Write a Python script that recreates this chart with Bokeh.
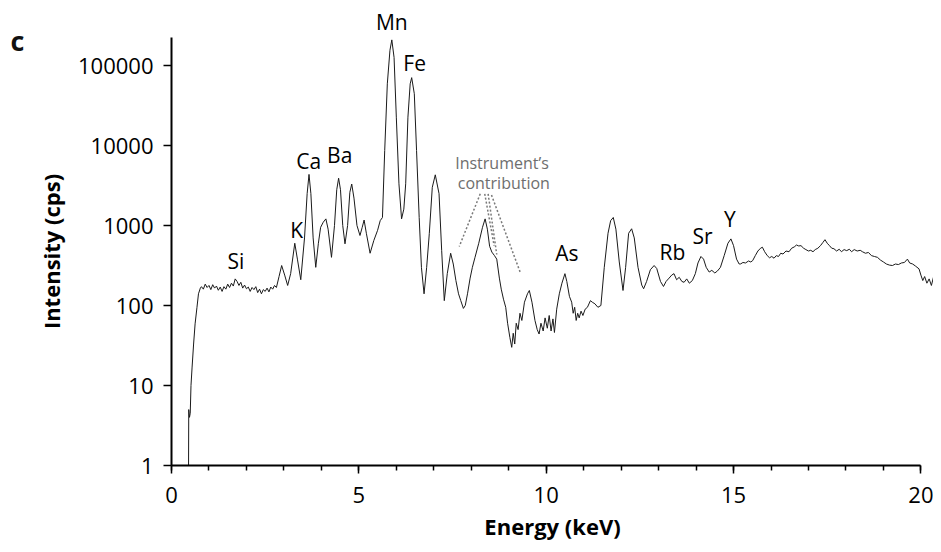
from bokeh.plotting import figure
from bokeh.models import (FixedTicker, NumeralTickFormatter, Range1d, LabelSet,
                          ColumnDataSource, LinearAxis)
from bokeh.core.properties import value
from bokeh.embed import file_html
from bokeh.resources import INLINE

# ---- spectrum (energy in keV, intensity in cps) ----
energy = [
    0.455, 0.46, 0.48, 0.50, 0.52, 0.55, 0.59, 0.63, 0.68, 0.72, 0.77,
    0.80, 0.85, 0.90, 0.95, 1.00, 1.05, 1.10, 1.15, 1.20, 1.25, 1.30, 1.35,
    1.40, 1.45, 1.50, 1.55, 1.60, 1.65, 1.70, 1.75, 1.80, 1.85, 1.90, 1.95,
    2.00, 2.05, 2.10, 2.15, 2.20, 2.25, 2.30, 2.35, 2.40, 2.45, 2.50, 2.55,
    2.60, 2.65, 2.70, 2.75, 2.80,
    2.87, 2.94, 3.02, 3.10, 3.18, 3.29, 3.36, 3.45, 3.55, 3.62, 3.67, 3.72,
    3.78, 3.85, 3.92, 3.98, 4.05, 4.12, 4.18, 4.27, 4.35, 4.41, 4.46, 4.51,
    4.57, 4.63, 4.70, 4.76, 4.81, 4.87, 4.95, 5.03, 5.09, 5.14, 5.20, 5.30,
    5.40, 5.50, 5.57, 5.63, 5.69, 5.76, 5.83, 5.88, 5.94, 6.00, 6.07, 6.14,
    6.20, 6.25, 6.31, 6.37, 6.41, 6.48, 6.54, 6.61, 6.67, 6.74, 6.81, 6.88,
    6.96, 7.04, 7.14, 7.21, 7.28, 7.36, 7.45, 7.52, 7.59, 7.66, 7.72, 7.79,
    7.84, 7.90, 7.97, 8.03, 8.10, 8.20, 8.30, 8.37, 8.43, 8.49, 8.55, 8.62,
    8.68, 8.75, 8.80, 8.86, 8.92, 8.97, 9.03, 9.08, 9.12, 9.16, 9.20, 9.25,
    9.30, 9.35, 9.42, 9.50, 9.55, 9.62, 9.70, 9.76, 9.81, 9.86, 9.92, 9.97,
    10.03, 10.08, 10.13, 10.18, 10.22, 10.28, 10.35, 10.42, 10.50, 10.55,
    10.62, 10.68, 10.72, 10.76, 10.80, 10.84, 10.88, 10.93, 10.98, 11.04,
    11.10, 11.18, 11.23, 11.30, 11.38, 11.46, 11.55, 11.65, 11.72, 11.79,
    11.86, 11.95, 12.05, 12.12, 12.20, 12.28, 12.35, 12.45, 12.55, 12.60,
    12.68, 12.78, 12.88, 12.95, 13.05, 13.13, 13.20, 13.28, 13.35, 13.41,
    13.48, 13.55, 13.62, 13.68, 13.75, 13.82, 13.90, 13.98, 14.05, 14.13,
    14.20, 14.27, 14.35, 14.42, 14.50, 14.57, 14.65, 14.75, 14.85, 14.93,
    15.00, 15.08, 15.15, 15.19, 15.25, 15.32, 15.40, 15.46, 15.51, 15.58,
    15.65, 15.72, 15.77, 15.83, 15.90, 15.96, 16.02, 16.08, 16.14, 16.20,
    16.26, 16.32, 16.40, 16.48, 16.55, 16.62, 16.68, 16.74, 16.80, 16.87,
    16.93, 17.00, 17.06, 17.12, 17.18, 17.25, 17.32, 17.38, 17.44, 17.50,
    17.56, 17.62, 17.68, 17.75, 17.82, 17.88, 17.95, 18.02, 18.09, 18.15,
    18.22, 18.30, 18.38, 18.44, 18.52, 18.60, 18.68, 18.76, 18.84, 18.92,
    19.00, 19.08, 19.16, 19.24, 19.32, 19.40, 19.48, 19.56, 19.64, 19.70,
    19.78, 19.86, 19.95, 20.00, 20.05, 20.10, 20.16, 20.22, 20.28, 20.34,
    20.40, 20.44, 20.50, 20.56,
]
intensity = [
    1, 5, 4, 4.5, 10, 17, 33, 59, 95, 140, 165,
    172, 160, 185, 168, 178, 158, 182, 165, 175, 155, 170, 150,
    172, 160, 185, 168, 190, 175, 215, 200, 178, 195, 165, 180,
    162, 170, 150, 168, 158, 172, 145, 160, 140, 158, 150, 165,
    148, 170, 160, 178, 168,
    230, 316, 240, 178, 250, 600, 380, 210, 700, 2500, 4350, 2500,
    700, 300, 600, 950, 1100, 1210, 900, 400, 1000, 2800, 3900, 2800,
    1000, 590, 1000, 2600, 3300, 2200, 1000, 750, 950, 1170, 800, 450,
    650, 870, 1150, 1260, 8660, 59000, 155000, 209000, 126000, 22600, 3320, 1210,
    1600, 3320, 22600, 59000, 70500, 44400, 8660, 1260, 300, 140, 300, 790,
    3000, 4300, 2500, 490, 115, 250, 450, 330, 205, 140, 115, 92,
    100, 140, 220, 300, 400, 600, 950, 1210, 900, 550, 465, 420,
    380, 220, 160, 120, 95, 60, 40, 30, 45, 33, 60, 50,
    80, 65, 110, 140, 154, 110, 65, 50, 44, 60, 48, 70,
    52, 75, 48, 68, 46, 90, 140, 190, 250, 200,
    130, 110, 80, 95, 65, 80, 70, 85, 75, 90,
    95, 115, 110, 105, 95, 100, 300, 800, 1150, 1260,
    900, 350, 154, 300, 800, 910, 700, 300, 180, 162,
    200, 280, 316, 290, 200, 173, 200, 220, 240, 250,
    210, 225, 200, 195, 215, 190, 205, 250, 340, 410,
    380, 300, 262, 275, 255, 270, 300, 420, 600, 680,
    560, 380, 330, 331, 345, 340, 360, 350, 364, 420,
    480, 520, 535, 470, 420, 395, 410, 390, 420, 410,
    450, 440, 480, 470, 520, 540, 570, 555, 560, 520,
    500, 480, 490, 470, 500, 520, 560, 610, 665, 600,
    560, 520, 512, 480, 505, 470, 500, 485, 505, 470,
    500, 480, 490, 470, 450, 460, 420, 410, 400, 370,
    350, 330, 320, 316, 330, 325, 340, 345, 380, 340,
    330, 310, 287, 240, 205, 230, 190, 215, 178, 230,
    200, 237, 220, 230,
]

# axis ticks
x_major_ticks = [0, 5, 10, 15, 20]
x_minor_ticks = list(range(0, 21))
y_major_ticks = [1, 10, 100, 1000, 10000, 100000]

# element peak labels inside the plot area (text and where they sit, keV / cps)
element_names = ["Si", "K", "Ca", "Ba", "Fe", "As", "Rb", "Sr", "Y"]
element_label_x = [1.72, 3.34, 3.66, 4.49, 6.49, 10.55, 13.37, 14.17, 14.90]
element_label_y = [355, 891, 6310, 7500, 109000, 453, 460, 729, 1189]

# Mn sits above the plot area: written as a label of a top axis at its peak energy
top_label_energy = 5.88
top_label_text = "Mn"

# panel letter, written as a label of an outer left axis at this intensity
panel_letter = "c"
panel_letter_level = 205000

# "Instrument's contribution" note and its dotted leader lines
note_lines = ["Instrument\u2019s", "contribution"]
note_x = [8.82, 8.87]
note_y = [5957, 3350]
leader_x0 = [8.24, 8.36, 8.45, 8.54]
leader_y0 = [2490, 2490, 2490, 2405]
leader_x1 = [7.68, 8.61, 8.68, 9.31]
leader_y1 = [546, 562, 434, 258]

FONT = "Open Sans"

p = figure(width=933, height=544, y_axis_type="log",
           x_range=Range1d(0, 762 / 37.47), y_range=Range1d(1, 10 ** 5.35),
           output_backend="svg", toolbar_location=None,
           min_border_left=171, min_border_right=0,
           min_border_top=37, min_border_bottom=79)
p.outline_line_color = None
p.xgrid.visible = False
p.ygrid.visible = False
p.background_fill_color = "white"
p.border_fill_color = "white"

p.line(energy, intensity, line_color="#1a1a1a", line_width=1)

p.segment(leader_x0, leader_y0, leader_x1, leader_y1,
          line_color="#7a7a7a", line_width=1.5, line_dash="2 2")

# axes
xa = p.xaxis[0]
xa.ticker = FixedTicker(ticks=x_major_ticks, minor_ticks=x_minor_ticks)
xa.bounds = (0, 20)
xa.axis_label = "Energy (keV)"
ya = p.yaxis[0]
ya.ticker = FixedTicker(ticks=y_major_ticks, minor_ticks=[])
ya.formatter = NumeralTickFormatter(format="0")
ya.axis_label = "Intensity (cps)"

for ax in (xa, ya):
    ax.axis_line_color = "black"
    ax.axis_line_width = 2
    ax.major_tick_line_color = "black"
    ax.major_tick_line_width = 1.5
    ax.major_tick_out = 8
    ax.major_tick_in = 0
    ax.minor_tick_line_color = "black"
    ax.minor_tick_line_width = 1.5
    ax.minor_tick_out = 5
    ax.minor_tick_in = 0
    ax.major_label_text_font = FONT
    ax.major_label_text_font_size = "22px"
    ax.major_label_text_color = "black"
    ax.axis_label_text_font = FONT
    ax.axis_label_text_font_size = "22px"
    ax.axis_label_text_font_style = "bold"
    ax.axis_label_text_color = "black"
xa.major_label_standoff = 13
xa.axis_label_standoff = 5
ya.major_label_standoff = 10
ya.axis_label_standoff = 9

# top axis carrying only the Mn peak label
top_axis = LinearAxis(ticker=FixedTicker(ticks=[top_label_energy], minor_ticks=[]),
                      major_label_overrides={top_label_energy: top_label_text},
                      axis_line_color=None, major_tick_line_color=None,
                      minor_tick_line_color=None, major_tick_out=0, major_tick_in=0,
                      major_label_standoff=2, major_label_text_font=FONT,
                      major_label_text_font_size="21px",
                      major_label_text_color="black")
p.add_layout(top_axis, "above")

# outer left axis carrying only the panel letter
letter_axis = LinearAxis(ticker=FixedTicker(ticks=[panel_letter_level], minor_ticks=[]),
                         major_label_overrides={panel_letter_level: panel_letter},
                         axis_line_color=None, major_tick_line_color=None,
                         minor_tick_line_color=None, major_tick_out=0, major_tick_in=0,
                         major_label_standoff=9, major_label_text_font=FONT,
                         major_label_text_font_size="27px",
                         major_label_text_font_style="bold",
                         major_label_text_color="#111111")
p.add_layout(letter_axis, "left")

# element labels
src = ColumnDataSource(dict(x=element_label_x, y=element_label_y, t=element_names))
p.add_layout(LabelSet(x="x", y="y", text="t", source=src,
                      text_align="center", text_baseline="middle",
                      text_font=value(FONT), text_font_size="21px",
                      text_color="black"))

note_src = ColumnDataSource(dict(x=note_x, y=note_y, t=note_lines))
p.add_layout(LabelSet(x="x", y="y", text="t", source=note_src,
                      text_align="center", text_baseline="middle",
                      text_font=value(FONT), text_font_size="16px",
                      text_color="#6e6e6e"))

open("out.html", "w").write(file_html(p, INLINE))
